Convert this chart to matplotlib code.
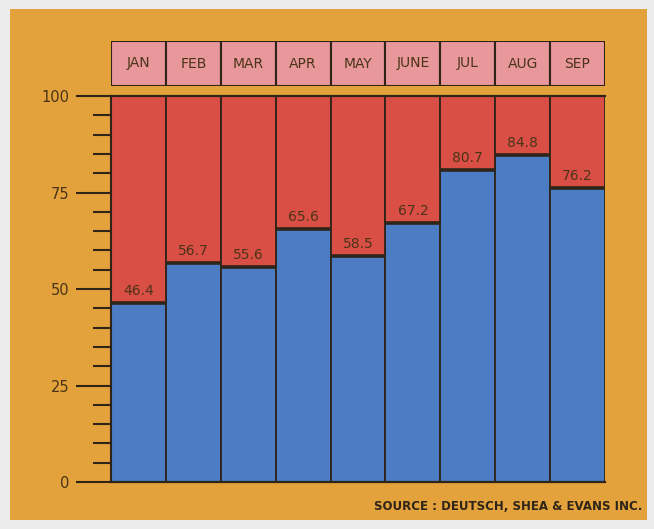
import matplotlib.pyplot as plt
from matplotlib.patches import Rectangle
import numpy as np

months = ["JAN", "FEB", "MAR", "APR", "MAY", "JUNE", "JUL", "AUG", "SEP"]
values = [46.4, 56.7, 55.6, 65.6, 58.5, 67.2, 80.7, 84.8, 76.2]
major_ticks = [0, 25, 50, 75, 100]
minor_ticks = [5, 10, 15, 20, 30, 35, 40, 45, 55, 60, 65, 70, 80, 85, 90, 95]
source = "SOURCE : DEUTSCH, SHEA & EVANS INC."

W, H = 654, 529
BLUE = "#4c7dc4"
RED = "#da4f45"
PINK = "#e8979a"
ORANGE = "#e3a23b"
GRAY = "#ececec"
INK = "#2e2418"
LABEL = "#4a3418"

fig = plt.figure(figsize=(W / 100, H / 100), dpi=100)
fig.patch.set_facecolor(GRAY)

# orange panel behind everything
bg = fig.add_axes([0, 0, 1, 1], zorder=-10)
bg.set_xlim(0, W)
bg.set_ylim(H, 0)
bg.add_patch(Rectangle((10, 9), 637, 511, facecolor=ORANGE, edgecolor="none"))
bg.axis("off")

# main stacked bars
x0, x1, y0, y1 = 111, 605, 482, 96
ax = fig.add_axes([x0 / W, (H - y0) / H, (x1 - x0) / W, (y0 - y1) / H])
ax.set_facecolor("none")
x = np.arange(len(months))
ax.bar(x, values, width=1, color=BLUE, edgecolor=INK, linewidth=1.3, zorder=2)
rest = [100 - v for v in values]
ax.bar(x, rest, bottom=values, width=1, color=RED, edgecolor=INK, linewidth=1.3, zorder=2)
for i, v in enumerate(values):
    ax.plot([i - 0.5, i + 0.5], [v, v], color=INK, lw=2.6, zorder=3, solid_capstyle="butt")
    ax.text(i, v + 1.3, f"{v}", ha="center", va="bottom", fontsize=10, color=LABEL, zorder=4)
ax.set_xlim(-0.5, len(months) - 0.5)
ax.set_ylim(0, 100)
ax.set_xticks([])
for s in ["top", "right", "bottom"]:
    ax.spines[s].set_visible(False)
ax.spines["left"].set_color(INK)
ax.spines["left"].set_linewidth(1.5)
ax.set_yticks(major_ticks)
ax.set_yticklabels([str(t) for t in major_ticks], fontsize=10.5, color=LABEL)
ax.set_yticks(minor_ticks, minor=True)
ax.tick_params(axis="y", which="major", length=25, width=1.5, color=INK, pad=5)
ax.tick_params(axis="y", which="minor", length=13, width=1.5, color=INK)
ax.plot([-0.5, 8.5], [100, 100], color=INK, lw=1.6, zorder=3, clip_on=False)
ax.plot([-0.5, 8.5], [0, 0], color=INK, lw=1.6, zorder=3, clip_on=False)

# month header boxes
hy0, hy1 = 86, 41
hax = fig.add_axes([x0 / W, (H - hy0) / H, (x1 - x0) / W, (hy0 - hy1) / H])
hax.set_facecolor("none")
hax.bar(x, [1] * len(months), width=1, color=PINK, edgecolor=INK, linewidth=1.5)
for i, m in enumerate(months):
    hax.text(i, 0.5, m, ha="center", va="center", fontsize=10, color=LABEL)
hax.set_xlim(-0.5, len(months) - 0.5)
hax.set_ylim(0, 1)
hax.axis("off")

fig.text(642 / W, (H - 506) / H, source, ha="right", va="center", fontsize=8.5,
         color=INK, fontweight="bold")

fig.savefig("out.png", dpi=100, facecolor=fig.get_facecolor())
